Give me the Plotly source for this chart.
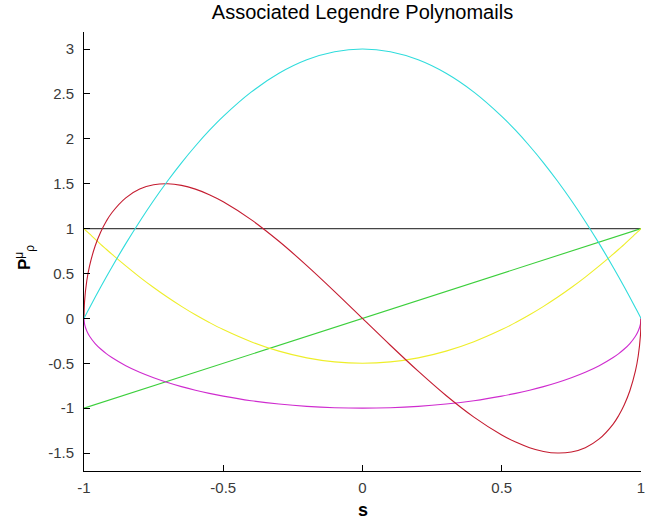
import plotly.graph_objects as go

# sample abscissae (s)
s = [-1, -0.998, -0.99, -0.98, -0.96, -0.94, -0.92, -0.9, -0.85, -0.8, -0.75, -0.7,
     -0.65, -0.6, -0.55, -0.5, -0.4, -0.3, -0.2, -0.1, 0,
     0.1, 0.2, 0.3, 0.4, 0.5, 0.55, 0.6, 0.65, 0.7, 0.75, 0.8, 0.85, 0.9, 0.92,
     0.94, 0.96, 0.98, 0.99, 0.998, 1]

# P_0^0 (black) and P_1^0 (green) are straight lines
s_line = [-1, 1]
p00 = [1, 1]
p10 = [-1, 1]

# P_1^1 (magenta)
p11 = [0, -0.063, -0.141, -0.199, -0.28, -0.341, -0.392, -0.436, -0.527, -0.6, -0.661, -0.714,
       -0.76, -0.8, -0.835, -0.866, -0.917, -0.954, -0.98, -0.995, -1,
       -0.995, -0.98, -0.954, -0.917, -0.866, -0.835, -0.8, -0.76, -0.714, -0.661, -0.6, -0.527,
       -0.436, -0.392, -0.341, -0.28, -0.199, -0.141, -0.063, 0]

# P_2^0 (yellow)
p20 = [1, 0.994, 0.97, 0.941, 0.882, 0.825, 0.77, 0.715, 0.584, 0.46, 0.344, 0.235,
       0.134, 0.04, -0.046, -0.125, -0.26, -0.365, -0.44, -0.485, -0.5,
       -0.485, -0.44, -0.365, -0.26, -0.125, -0.046, 0.04, 0.134, 0.235, 0.344, 0.46, 0.584,
       0.715, 0.77, 0.825, 0.882, 0.941, 0.97, 0.994, 1]

# P_2^1 (red)
p21 = [0, 0.189, 0.419, 0.585, 0.806, 0.962, 1.082, 1.177, 1.343, 1.44, 1.488, 1.5,
       1.482, 1.44, 1.378, 1.299, 1.1, 0.859, 0.588, 0.299, 0,
       -0.299, -0.588, -0.859, -1.1, -1.299, -1.378, -1.44, -1.482, -1.5, -1.488, -1.44, -1.343,
       -1.177, -1.082, -0.962, -0.806, -0.585, -0.419, -0.189, 0]

# P_2^2 (cyan)
p22 = [0, 0.012, 0.06, 0.119, 0.235, 0.349, 0.461, 0.57, 0.833, 1.08, 1.313, 1.53,
       1.733, 1.92, 2.093, 2.25, 2.52, 2.73, 2.88, 2.97, 3,
       2.97, 2.88, 2.73, 2.52, 2.25, 2.093, 1.92, 1.733, 1.53, 1.313, 1.08, 0.833,
       0.57, 0.461, 0.349, 0.235, 0.119, 0.06, 0.012, 0]

x_ticks = [-1, -0.5, 0, 0.5, 1]
x_ticklabels = ["-1", "-0.5", "0", "0.5", "1"]
y_ticks = [-1.5, -1, -0.5, 0, 0.5, 1, 1.5, 2, 2.5, 3]
y_ticklabels = ["-1.5", "-1", "-0.5", "0", "0.5", "1", "1.5", "2", "2.5", "3"]

fig = go.Figure()
lw = 1.1
fig.add_trace(go.Scatter(x=s_line, y=p00, mode="lines", line=dict(color="#454545", width=lw)))
fig.add_trace(go.Scatter(x=s_line, y=p10, mode="lines", line=dict(color="#3ccf3c", width=lw)))
fig.add_trace(go.Scatter(x=s, y=p11, mode="lines", line=dict(color="#cf2ccf", width=lw, shape="spline")))
fig.add_trace(go.Scatter(x=s, y=p20, mode="lines", line=dict(color="#eeee2a", width=lw, shape="spline")))
fig.add_trace(go.Scatter(x=s, y=p21, mode="lines", line=dict(color="#c41c30", width=lw, shape="spline")))
fig.add_trace(go.Scatter(x=s, y=p22, mode="lines", line=dict(color="#2fdcdc", width=lw, shape="spline")))

font_family = "Liberation Sans, Arial, sans-serif"
fig.update_layout(
    width=658, height=522, autosize=False,
    margin=dict(l=84, r=17, t=32, b=51),
    paper_bgcolor="white", plot_bgcolor="white",
    showlegend=False,
    font=dict(family=font_family, size=15, color="#3a3a3a"),
    title=dict(text="Associated Legendre Polynomails", x=0.5, xref="paper", xanchor="center",
               y=1 - 12 / 522, yref="container", yanchor="middle",
               font=dict(family=font_family, size=20, color="black")),
    xaxis=dict(range=[-1, 1], tickvals=x_ticks, ticktext=x_ticklabels,
               showline=True, linecolor="black", linewidth=1, mirror=False,
               ticks="inside", ticklen=6, tickcolor="black", showgrid=False, zeroline=False,
               ticklabelstandoff=3),
    yaxis=dict(range=[-1.7, 3.19], tickvals=y_ticks, ticktext=y_ticklabels,
               showline=True, linecolor="black", linewidth=1, mirror=False,
               ticks="inside", ticklen=6, tickcolor="black", showgrid=False, zeroline=False,
               ticklabelstandoff=6),
    annotations=[
        dict(text="<b>s</b>", x=0.5, xref="paper", y=(471 - 510) / 439, yref="paper",
             xanchor="center", yanchor="middle", showarrow=False,
             font=dict(family=font_family, size=18, color="black")),
        dict(text="<b>P</b><sup>μ</sup><sub>ρ</sub>", x=(24 - 84) / 557, xref="paper",
             y=(471 - 258) / 439, yref="paper", textangle=-90,
             xanchor="center", yanchor="middle", showarrow=False,
             font=dict(family=font_family, size=17, color="black")),
    ],
)

fig.write_html("out.html", config={"displayModeBar": False},
               post_script="document.body.style.margin='0';")
